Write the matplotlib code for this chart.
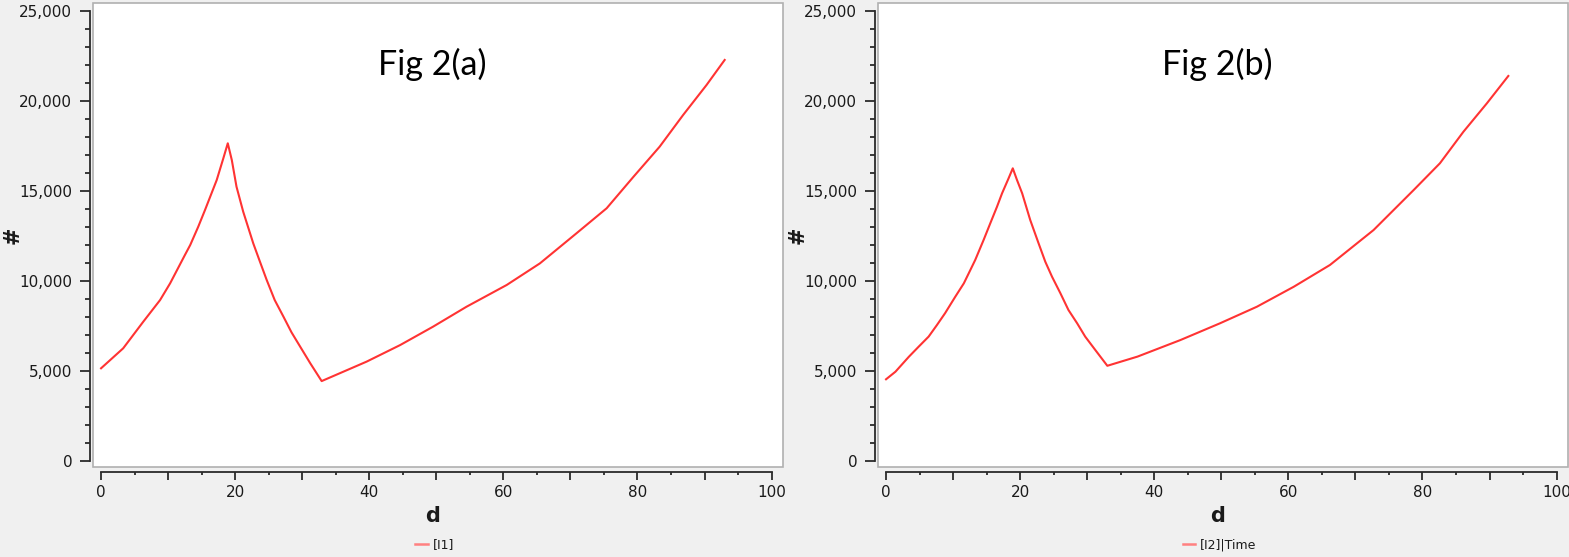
import matplotlib
matplotlib.use("Agg")
import matplotlib.pyplot as plt
from matplotlib.patches import Rectangle
from matplotlib.ticker import MultipleLocator, FuncFormatter

# values
d_a = [0, 3.3, 6.3, 8.8, 10.3, 12.5, 13.3, 14.5, 15.5, 17.25, 18.24, 18.9,
       19.5, 20.2, 21.2, 22.7, 23.7, 24.7, 25.9, 27.2, 28.4, 29.7, 31.2, 32.9,
       39.6, 44.6, 49.5, 54.5, 60.5, 65.45, 70.9, 75.4, 79.4, 83.3, 86.8, 90.3, 93.0]
n_a = [5150, 6260, 7740, 8940, 9870, 11440, 12000, 13020, 13940, 15610, 16820, 17650,
       16720, 15240, 13850, 12090, 11070, 10060, 8940, 8020, 7150, 6350, 5430, 4440,
       5520, 6440, 7460, 8570, 9780, 10980, 12650, 14040, 15790, 17460, 19220, 20890, 22280]

d_b = [0, 1.4, 3.4, 4.86, 6.35, 7.6, 8.8, 10.33, 11.6, 12.57, 13.3, 14.55, 15.55, 16.55, 17.3, 18.28, 18.9,
       19.53, 20.3, 21.5, 22.75, 23.75, 24.75, 26.0, 27.2, 28.5, 29.7, 31.2, 33.0,
       37.5, 43.9, 49.8, 55.3, 60.8, 66.2, 72.7, 78.7, 82.6, 86.1, 89.6, 92.8]
n_b = [4540, 4960, 5790, 6350, 6910, 7560, 8210, 9130, 9870, 10610, 11170, 12280, 13210, 14130, 14870, 15710, 16260,
       15610, 14870, 13390, 12090, 11070, 10240, 9320, 8390, 7650, 6910, 6170, 5290,
       5800, 6720, 7650, 8570, 9680, 10890, 12830, 15060, 16540, 18290, 19870, 21390]

panels = [
    (d_a, n_a, "[I1]", "Fig 2(a)"),
    (d_b, n_b, "[I2]|Time", "Fig 2(b)"),
]

BG = "#f0f0f0"
INK = "#1a1a1a"
LINE = "#ff3333"

fig = plt.figure(figsize=(15.69, 5.57), dpi=100, facecolor=BG)
lefts = [93 / 1569, 878 / 1569]
W = 690 / 1569
B = 90 / 557
H = 464 / 557

for left, (d, n, lab, title) in zip(lefts, panels):
    ax = fig.add_axes([left, B, W, H])
    ax.set_facecolor("white")
    ax.add_patch(Rectangle((0, 0), 1, 1, transform=ax.transAxes, fill=False,
                           edgecolor="#b0b0b0", lw=1.2, zorder=0, clip_on=False))
    ax.plot(d, n, color=LINE, lw=1.5, label=lab)

    ax.set_xlim(-1.2, 101.7)
    ax.set_ylim(-333, 25444)

    for s in ["top", "right"]:
        ax.spines[s].set_visible(False)
    ax.spines["left"].set_position(("outward", 2.2))
    ax.spines["bottom"].set_position(("outward", 3.6))
    ax.spines["left"].set_bounds(0, 25000)
    ax.spines["bottom"].set_bounds(0, 100)
    for s in ["left", "bottom"]:
        ax.spines[s].set_color("#2a2a2a")
        ax.spines[s].set_linewidth(1.3)

    ax.xaxis.set_major_locator(MultipleLocator(10))
    ax.xaxis.set_minor_locator(MultipleLocator(5))
    ax.xaxis.set_major_formatter(FuncFormatter(lambda v, p: f"{v:.0f}" if round(v) % 20 == 0 else ""))
    ax.yaxis.set_major_locator(MultipleLocator(5000))
    ax.yaxis.set_minor_locator(MultipleLocator(1000))
    ax.yaxis.set_major_formatter(FuncFormatter(lambda v, p: f"{v:,.0f}"))

    ax.tick_params(axis="y", which="major", length=7.2, width=1.3, color="#2a2a2a",
                   labelsize=11, labelcolor=INK, pad=5.5)
    ax.tick_params(axis="y", which="minor", length=3.6, width=1.3, color="#2a2a2a")
    ax.tick_params(axis="x", which="major", length=5.5, width=1.3, color="#2a2a2a",
                   labelsize=11, labelcolor=INK, pad=4)
    ax.tick_params(axis="x", which="minor", length=2.5, width=1.3, color="#2a2a2a")

    ax.set_xlabel("d", fontsize=15, fontweight="bold", color=INK)
    ax.set_ylabel("#", fontsize=15, fontweight="bold", color=INK)
    ax.xaxis.set_label_coords(0.492, -0.085)
    ax.yaxis.set_label_coords(-0.102, 0.5)

    ax.text(0.492, 0.845, title, transform=ax.transAxes, ha="center", va="baseline",
            fontsize=24.5, family="Lato", color="black")

    leg = ax.legend(loc="center", bbox_to_anchor=(0.495, -0.168), frameon=False,
                    fontsize=9, handlelength=1.0, handletextpad=0.4)
    for t in leg.get_texts():
        t.set_color(INK)
    for h in leg.get_lines():
        h.set_color("#ff8080")
        h.set_linewidth(1.8)

fig.savefig("out.png", dpi=100, facecolor=BG)
